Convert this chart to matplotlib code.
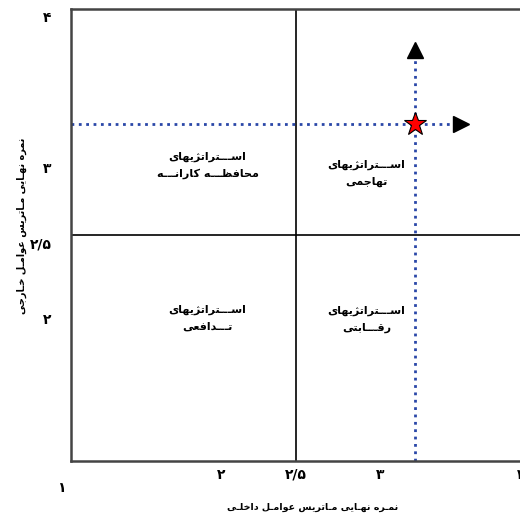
import matplotlib
matplotlib.use('Agg')
import matplotlib.pyplot as plt
from matplotlib.transforms import ScaledTranslation

# داده‌ها
x_ticks = [2, 2.5, 3, 4]
x_labels = ['۲', '۲/۵', '۳', '۴']
y_ticks = [2, 2.5, 3, 4]
y_labels = ['۲', '۲/۵', '۳', '۴']
nokte_x = 3.29   # نمره عوامل داخلی
nokte_y = 3.24   # نمره عوامل خارجی
fleche_x = 3.65
fleche_y = 3.78
rahbord_x = [1.91, 2.97, 1.91, 2.97]
rahbord_y = [2.96, 2.91, 1.95, 1.94]
rahbord_matn = ['اســـتراتژیهای\nمحافظـــه کارانـــه', 'اســـتراتژیهای\nتهاجمی',
                'اســـتراتژیهای\nتـــدافعی', 'اســـتراتژیهای\nرقـــابتی']
x_onvan = 'نمـره نهـایی مـاتریس عوامـل داخلـی'
y_onvan = 'نمره نهـایی مـاتریس عوامـل خـارجی'

# شکل‌دهی ساده حروف فارسی (matplotlib خودش حروف را به هم نمی‌چسباند)
forms = {
    'ا': (0xFE8D, 0xFE8E), 'د': (0xFEA9, 0xFEAA), 'ذ': (0xFEAB, 0xFEAC),
    'ر': (0xFEAD, 0xFEAE), 'ز': (0xFEAF, 0xFEB0), 'ژ': (0xFB8A, 0xFB8B),
    'و': (0xFEED, 0xFEEE),
    'ب': (0xFE8F, 0xFE90, 0xFE91, 0xFE92), 'پ': (0xFB56, 0xFB57, 0xFB58, 0xFB59),
    'ت': (0xFE95, 0xFE96, 0xFE97, 0xFE98), 'ج': (0xFE9D, 0xFE9E, 0xFE9F, 0xFEA0),
    'ح': (0xFEA1, 0xFEA2, 0xFEA3, 0xFEA4), 'خ': (0xFEA5, 0xFEA6, 0xFEA7, 0xFEA8),
    'س': (0xFEB1, 0xFEB2, 0xFEB3, 0xFEB4), 'ط': (0xFEC1, 0xFEC2, 0xFEC3, 0xFEC4),
    'ظ': (0xFEC5, 0xFEC6, 0xFEC7, 0xFEC8), 'ع': (0xFEC9, 0xFECA, 0xFECB, 0xFECC),
    'ف': (0xFED1, 0xFED2, 0xFED3, 0xFED4), 'ق': (0xFED5, 0xFED6, 0xFED7, 0xFED8),
    'ک': (0xFB8E, 0xFB8F, 0xFB90, 0xFB91), 'ل': (0xFEDD, 0xFEDE, 0xFEDF, 0xFEE0),
    'م': (0xFEE1, 0xFEE2, 0xFEE3, 0xFEE4), 'ن': (0xFEE5, 0xFEE6, 0xFEE7, 0xFEE8),
    'ه': (0xFEE9, 0xFEEA, 0xFEEB, 0xFEEC), 'ی': (0xFBFC, 0xFBFD, 0xFBFE, 0xFBFF),
}


def joins_next(c):
    return c == 'ـ' or (c in forms and len(forms[c]) == 4)


def joins(c):
    return c == 'ـ' or c in forms


def shape_line(s):
    out = []
    for i, c in enumerate(s):
        if c not in forms:
            out.append(c)
            continue
        prev = i > 0 and joins_next(s[i - 1])
        nxt = len(forms[c]) == 4 and i + 1 < len(s) and joins(s[i + 1])
        f = forms[c]
        if prev and nxt:
            out.append(chr(f[3]))
        elif nxt:
            out.append(chr(f[2]))
        elif prev:
            out.append(chr(f[1]))
        else:
            out.append(chr(f[0]))
    return ''.join(out)[::-1]


def fa(s):
    return '\n'.join(shape_line(line) for line in s.split('\n'))


plt.rcParams['font.family'] = ['DejaVu Sans']

fig = plt.figure(figsize=(5.2, 5.19), dpi=100)
ax = fig.add_axes([71 / 520, 1 - 461 / 519, 450 / 520, 452 / 519])
ax.set_xlim(1, 4)
ax.set_ylim(1, 4)
for s in ax.spines.values():
    s.set_linewidth(1.8)
    s.set_color('#444444')

ax.set_xticks(x_ticks, x_labels, fontsize=10, fontweight='bold')
ax.set_yticks(y_ticks, y_labels, fontsize=10, fontweight='bold')
ax.tick_params(length=0)
ax.tick_params(axis='x', pad=5)
ax.tick_params(axis='y', pad=14)
for lab in ax.get_yticklabels():
    lab.set_transform(lab.get_transform() + ScaledTranslation(0, -8 / 100, fig.dpi_scale_trans))
# برچسب ۳ در تصویر اصلی کمی جلوتر است
lab3 = ax.get_xticklabels()[2]
lab3.set_transform(lab3.get_transform() + ScaledTranslation(9 / 100, 0, fig.dpi_scale_trans))
ax.text(1, 1, '۱', fontsize=10, fontweight='bold', ha='center', va='center',
        transform=ax.transData + ScaledTranslation(-10 / 100, -27 / 100, fig.dpi_scale_trans))

# خطوط میانی
ax.axvline(2.5, color='black', lw=1.2)
ax.axhline(2.5, color='black', lw=1.2)

# خطوط نقطه‌چین و فلش‌ها
ax.plot([1, fleche_x - 0.1], [nokte_y, nokte_y], ls=':', color='#2a47a8', lw=2)
ax.plot([nokte_x, nokte_x], [1, fleche_y - 0.1], ls=':', color='#2a47a8', lw=2)
ax.plot(fleche_x - 0.05, nokte_y, marker='>', color='black', ms=11)
ax.plot(nokte_x, fleche_y - 0.05, marker='^', color='black', ms=11)
ax.plot(nokte_x, nokte_y, marker='*', color='red', mec='black', mew=0.8, ms=17)

for x, y, t in zip(rahbord_x, rahbord_y, rahbord_matn):
    ax.text(x, y, fa(t), ha='center', va='center', fontsize=8, fontweight='bold',
            linespacing=1.8)

ax.set_xlabel(fa(x_onvan), fontsize=6.8, fontweight='bold')
ax.xaxis.set_label_coords((313 - 71) / 450, (461 - 503) / 452)
ax.set_ylabel(fa(y_onvan), fontsize=7, fontweight='bold')
ax.yaxis.set_label_coords((27 - 71) / 450, (461 - 226) / 452)

plt.savefig('out.png', dpi=100)
